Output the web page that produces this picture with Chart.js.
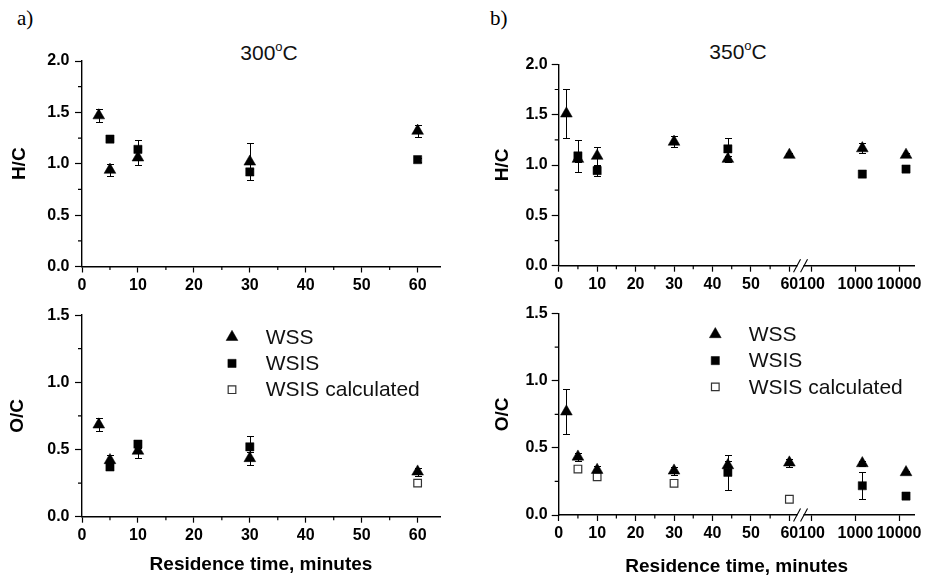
<!DOCTYPE html>
<html>
<head>
<meta charset="utf-8">
<script src="https://cdn.jsdelivr.net/npm/chart.js@4.4.1/dist/chart.umd.min.js"></script>
<style>
  html, body { margin: 0; padding: 0; background: #fff; }
  #wrap { position: relative; width: 926px; height: 576px; overflow: hidden; background: #fff;
          font-family: "Liberation Sans", Arial, sans-serif; }
  .pane { position: absolute; }
  .pane canvas { display: block; }
  .lab { position: absolute; font-family: "Liberation Serif", "Times New Roman", serif;
         font-size: 21px; line-height: 21px; color: #000; white-space: nowrap; }
  .ttl { position: absolute; font-size: 21px; line-height: 21px; color: #111; white-space: nowrap;
         transform: translateX(-50%); }
  .ttl sup { font-size: 13px; line-height: 0; vertical-align: 0; position: relative; top: -9px; }
</style>
</head>
<body>
<div id="wrap">
  <div class="lab" style="left:17px; top:8px;">a)</div>
  <div class="lab" style="left:490px; top:8px;">b)</div>
  <div class="ttl" style="left:269px; top:42px;">300<sup>o</sup>C</div>
  <div class="ttl" style="left:738px; top:41px;">350<sup>o</sup>C</div>
  <div class="pane" style="left:0px; top:36px; width:463px; height:264px;"><canvas id="c1"></canvas></div>
  <div class="pane" style="left:0px; top:300px; width:463px; height:276px;"><canvas id="c3"></canvas></div>
  <div class="pane" style="left:463px; top:36px; width:463px; height:264px;"><canvas id="c2"></canvas></div>
  <div class="pane" style="left:463px; top:300px; width:463px; height:278px;"><canvas id="c4"></canvas></div>
</div>
<script>
// ================= DATA =================
// ---- 300 °C ----
const T300_WSS_X        = [3, 5, 10, 30, 60];
const T300_WSS_HC       = [1.47, 0.94, 1.06, 1.02, 1.32];
const T300_WSS_HC_ERR   = [0.06, 0.06, 0.07, 0.18, 0.06];
const T300_WSIS_HC_X    = [5, 10, 30, 60];
const T300_WSIS_HC      = [1.24, 1.14, 0.92, 1.04];
const T300_WSIS_HC_ERR  = [0.03, 0.095, 0.03, 0.02];
const T300_WSS_OC       = [0.685, 0.42, 0.49, 0.435, 0.335];
const T300_WSS_OC_ERR   = [0.05, 0.04, 0.05, 0.05, 0.03];
const T300_WSIS_OC_X    = [5, 10, 30];
const T300_WSIS_OC      = [0.37, 0.54, 0.52];
const T300_WSIS_OC_ERR  = [0.02, 0.03, 0.08];
const T300_CALC_X       = [60];
const T300_CALC_OC      = [0.25];

// ---- 350 °C ----
const T350_WSS_X        = [2, 5, 10, 30, 44, 60, 1440, 14400];
const T350_WSS_HC       = [1.51, 1.06, 1.09, 1.23, 1.06, 1.10, 1.165, 1.10];
const T350_WSS_HC_ERR   = [0.24, 0.03, 0.09, 0.055, 0.03, 0.02, 0.05, 0.02];
const T350_WSIS_HC_X    = [5, 10, 44, 1440, 14400];
const T350_WSIS_HC      = [1.09, 0.945, 1.16, 0.91, 0.96];
const T350_WSIS_HC_ERR  = [0.155, 0.05, 0.11, 0.03, 0.02];
const T350_WSS_OC       = [0.77, 0.434, 0.335, 0.33, 0.37, 0.39, 0.385, 0.318];
const T350_WSS_OC_ERR   = [0.17, 0.03, 0.03, 0.03, 0.03, 0.03, 0.02, 0.01];
const T350_WSIS_OC_X    = [44, 1440, 14400];
const T350_WSIS_OC      = [0.318, 0.218, 0.141];
const T350_WSIS_OC_ERR  = [0.13, 0.10, 0.01];
const T350_CALC_X       = [5, 10, 30, 60];
const T350_CALC_OC      = [0.342, 0.285, 0.236, 0.117];

// ---- ticks ----
const X_TICKS_300  = [0, 10, 20, 30, 40, 50, 60];
const X_TICKS_350  = [0, 10, 20, 30, 40, 50, 60, 100, 1000, 10000];
const X_MINOR      = [5, 15, 25, 35, 45, 55];
const Y_MINOR_HC   = [0.25, 0.75, 1.25, 1.75];
const Y_MINOR_OC   = [0.25, 0.75, 1.25];
const SERIES_NAMES = ['WSS', 'WSIS', 'WSIS calculated'];

// ================= SETUP =================
const FONT = '"Liberation Sans", Arial, sans-serif';
Chart.defaults.font.family = FONT;
Chart.defaults.color = '#000';

// broken x axis: linear 0..~64, then log decades from 100 upward
const BREAK_LIN_END = 64;     // values up to here are linear
const U_AT_100 = 65.8;        // axis units where 100 sits
const U_PER_DECADE = 11.37;   // axis units per decade on the log part
const X_MAX_350 = 22750;      // raw value at the right end of the broken axis
function toAxisUnits(v) {
  return v <= BREAK_LIN_END ? v : U_AT_100 + (Math.log10(v) - 2) * U_PER_DECADE;
}
function fromAxisUnits(u) {
  return u <= BREAK_LIN_END ? u : Math.pow(10, 2 + (u - U_AT_100) / U_PER_DECADE);
}
class BrokenXScale extends Chart.LinearScale {
  static id = 'brokenX';
  static defaults = {};
  getPixelForValue(value) {
    const u0 = toAxisUnits(this.min), u1 = toAxisUnits(this.max);
    return this.getPixelForDecimal((toAxisUnits(value) - u0) / (u1 - u0));
  }
  getValueForPixel(pixel) {
    const u0 = toAxisUnits(this.min), u1 = toAxisUnits(this.max);
    return fromAxisUnits(u0 + this.getDecimalForPixel(pixel) * (u1 - u0));
  }
  buildTicks() { return X_TICKS_350.map(v => ({ value: v })); }
}
Chart.register(BrokenXScale);

const errorBarPlugin = {
  id: 'errorBars',
  beforeDatasetsDraw(chart) {
    const ctx = chart.ctx, xs = chart.scales.x, ys = chart.scales.y;
    const cap = 3.5;
    ctx.save();
    ctx.strokeStyle = '#000';
    ctx.lineWidth = 1;
    chart.data.datasets.forEach(d => {
      if (!d.errors) return;
      d.data.forEach((p, i) => {
        const e = d.errors[i];
        if (!e) return;
        const px = Math.round(xs.getPixelForValue(p.x)) + 0.5;
        const t = Math.round(ys.getPixelForValue(p.y + e)) + 0.5;
        const b = Math.round(ys.getPixelForValue(p.y - e)) + 0.5;
        ctx.beginPath();
        ctx.moveTo(px, t); ctx.lineTo(px, b);
        ctx.moveTo(px - cap, t); ctx.lineTo(px + cap, t);
        ctx.moveTo(px - cap, b); ctx.lineTo(px + cap, b);
        ctx.stroke();
      });
    });
    ctx.restore();
  }
};

const minorTickPlugin = {
  id: 'minorTicks',
  afterDraw(chart, args, opts) {
    const ctx = chart.ctx, xs = chart.scales.x, ys = chart.scales.y, a = chart.chartArea;
    ctx.save();
    ctx.strokeStyle = '#000';
    ctx.lineWidth = 1.2;
    ctx.beginPath();
    (opts.x || []).forEach(v => {
      const px = xs.getPixelForValue(v);
      ctx.moveTo(px, a.bottom); ctx.lineTo(px, a.bottom + 3.5);
    });
    (opts.y || []).forEach(v => {
      const py = ys.getPixelForValue(v);
      ctx.moveTo(a.left, py); ctx.lineTo(a.left - 4, py);
    });
    ctx.stroke();
    ctx.restore();
  }
};

const axisBreakPlugin = {
  id: 'axisBreak',
  afterDraw(chart, args, opts) {
    if (!opts.enabled) return;
    const ctx = chart.ctx, xs = chart.scales.x, a = chart.chartArea;
    const cx = (xs.getPixelForValue(60) + xs.getPixelForValue(100)) / 2;
    const y = a.bottom;
    ctx.save();
    ctx.fillStyle = '#fff';
    ctx.fillRect(cx - 3, y - 2, 6, 4);
    ctx.strokeStyle = '#000';
    ctx.lineWidth = 1.1;
    ctx.beginPath();
    [-3.5, 3.5].forEach(dx => {
      ctx.moveTo(cx + dx - 3.5, y + 6.5);
      ctx.lineTo(cx + dx + 3.5, y - 6.5);
    });
    ctx.stroke();
    ctx.restore();
  }
};

const legendPlugin = {
  id: 'pointLegend',
  afterDraw(chart, args, opts) {
    if (!opts.enabled) return;
    const ctx = chart.ctx, a = chart.chartArea;
    ctx.save();
    chart.data.datasets.forEach((d, i) => {
      const x = a.left + opts.dx, y = a.top + opts.dy + i * opts.step;
      ctx.fillStyle = d.backgroundColor;
      ctx.strokeStyle = d.borderColor;
      ctx.lineWidth = d.borderWidth;
      Chart.helpers.drawPoint(ctx, { pointStyle: d.pointStyle, radius: d.pointRadius, rotation: 0, borderWidth: d.borderWidth }, x, y);
      ctx.fillStyle = '#111';
      ctx.font = '21px ' + FONT;
      ctx.textAlign = 'left';
      ctx.textBaseline = 'middle';
      ctx.fillText(d.label, a.left + opts.textDx, y + 1);
    });
    ctx.restore();
  }
};

function pts(xs, ys) { return xs.map((x, i) => ({ x: x, y: ys[i] })); }

function wss(xs, ys, err) {
  return { label: SERIES_NAMES[0], data: pts(xs, ys), errors: err, pointStyle: 'triangle', pointRadius: 6.8,
           backgroundColor: '#000', borderColor: '#000', borderWidth: 0.5, showLine: false };
}
function wsis(xs, ys, err) {
  return { label: SERIES_NAMES[1], data: pts(xs, ys), errors: err, pointStyle: 'rect', pointRadius: 5.8,
           backgroundColor: '#000', borderColor: '#000', borderWidth: 0.5, showLine: false };
}
function calc(xs, ys) {
  return { label: SERIES_NAMES[2], data: pts(xs, ys), errors: null, pointStyle: 'rect', pointRadius: 5.4,
           backgroundColor: '#fff', borderColor: '#333', borderWidth: 1.2, showLine: false };
}

function makeChart(id, p) {
  const tickFont = { size: 16, weight: 'bold', family: FONT };
  const titleFont = { size: 19, weight: 'bold', family: FONT };
  const xScale = p.broken ? {
      type: 'brokenX', min: 0, max: X_MAX_350,
    } : {
      type: 'linear', min: 0, max: 64,
    };
  Object.assign(xScale, {
    position: 'bottom',
    grid: { display: true, drawOnChartArea: false, drawTicks: true, tickLength: 6, color: '#000', tickWidth: 1.2 },
    border: { display: true, color: '#000', width: 1.4 },
    ticks: { font: tickFont, color: '#000', padding: 3, autoSkip: false, maxRotation: 0, includeBounds: false,
             stepSize: 10, callback: v => String(v) },
    title: p.xTitle ? { display: true, text: 'Residence time, minutes', font: titleFont, color: '#000',
                        padding: { top: 0, bottom: 0 } } : { display: false },
    afterFit: s => { s.height = p.xH; }
  });
  return new Chart(document.getElementById(id), {
    type: 'scatter',
    data: { datasets: p.datasets },
    options: {
      responsive: true, maintainAspectRatio: false, animation: false, events: [],
      layout: { padding: { top: p.padTop, right: p.padRight, bottom: 0, left: 0 } },
      plugins: {
        legend: { display: false }, tooltip: { enabled: false },
        minorTicks: { x: X_MINOR, y: p.yMinor },
        axisBreak: { enabled: !!p.broken },
        pointLegend: p.legend ? Object.assign({ enabled: true }, p.legend) : { enabled: false }
      },
      scales: {
        x: xScale,
        y: {
          type: 'linear', position: 'left', min: 0, max: p.yMax,
          grid: { display: true, drawOnChartArea: false, drawTicks: true, tickLength: 7, color: '#000', tickWidth: 1.2 },
          border: { display: true, color: '#000', width: 1.4 },
          ticks: { font: tickFont, color: '#000', padding: p.yPad, stepSize: 0.5, callback: v => v.toFixed(1) },
          title: { display: true, text: p.yTitle, font: titleFont, color: '#000', padding: { top: p.yTitlePad, bottom: 0 } },
          afterFit: s => { s.width = p.yW; }
        }
      }
    },
    plugins: [errorBarPlugin, minorTickPlugin, axisBreakPlugin, legendPlugin]
  });
}

// a) 300 °C, H/C
makeChart('c1', {
  datasets: [wss(T300_WSS_X, T300_WSS_HC, T300_WSS_HC_ERR), wsis(T300_WSIS_HC_X, T300_WSIS_HC, T300_WSIS_HC_ERR)],
  yMax: 2, yMinor: Y_MINOR_HC, yTitle: 'H/C', padTop: 25, padRight: 23, yW: 82, xH: 33.5, yPad: 5.5, yTitlePad: 8.6
});
// a) 300 °C, O/C
makeChart('c3', {
  datasets: [wss(T300_WSS_X, T300_WSS_OC, T300_WSS_OC_ERR), wsis(T300_WSIS_OC_X, T300_WSIS_OC, T300_WSIS_OC_ERR),
             calc(T300_CALC_X, T300_CALC_OC)],
  yMax: 1.5, yMinor: Y_MINOR_OC, yTitle: 'O/C', padTop: 12, padRight: 23, yW: 82, xH: 59.3, yPad: 5.5, yTitlePad: 6,
  xTitle: true, legend: { dx: 150, dy: 22, step: 26.3, textDx: 183.7 }
});
// b) 350 °C, H/C
makeChart('c2', {
  broken: true,
  datasets: [wss(T350_WSS_X, T350_WSS_HC, T350_WSS_HC_ERR), wsis(T350_WSIS_HC_X, T350_WSIS_HC, T350_WSIS_HC_ERR)],
  yMax: 2, yMinor: Y_MINOR_HC, yTitle: 'H/C', padTop: 28.3, padRight: 11.3, yW: 95.7, xH: 34.3, yPad: 4, yTitlePad: 28.6
});
// b) 350 °C, O/C
makeChart('c4', {
  broken: true,
  datasets: [wss(T350_WSS_X, T350_WSS_OC, T350_WSS_OC_ERR), wsis(T350_WSIS_OC_X, T350_WSIS_OC, T350_WSIS_OC_ERR),
             calc(T350_CALC_X, T350_CALC_OC)],
  yMax: 1.5, yMinor: Y_MINOR_OC, yTitle: 'O/C', padTop: 13.3, padRight: 11.3, yW: 95.7, xH: 63, yPad: 4, yTitlePad: 28.6,
  xTitle: true, legend: { dx: 156.6, dy: 20.7, step: 26.3, textDx: 190 }
});
</script>
</body>
</html>
